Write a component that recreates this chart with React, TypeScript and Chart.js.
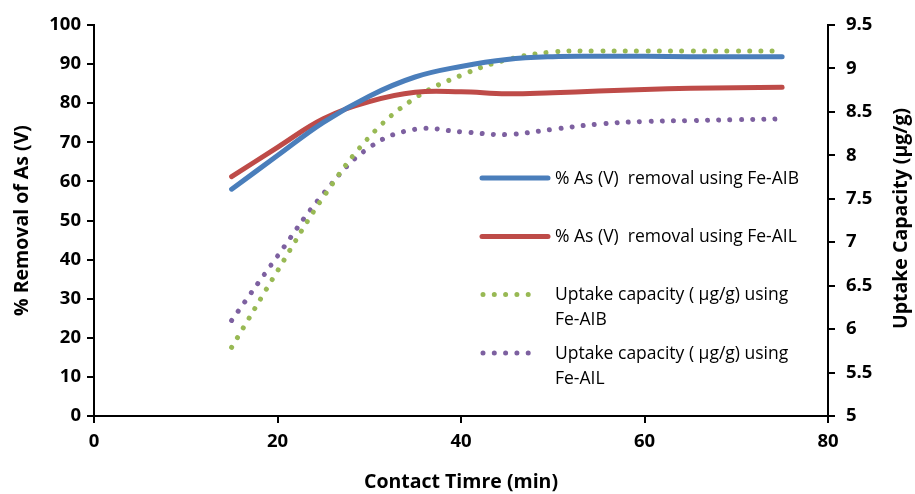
import { useEffect, useRef } from "react";
import { Chart, registerables } from "chart.js";

Chart.register(...registerables);

// Contact time (min)
const contactTime = [15, 20, 25, 30, 35, 40, 45, 50, 55, 60, 65, 70, 75];

// % removal of As(V)
const removalAIB = [58, 66.6, 75.1, 81.8, 86.7, 89.4, 91.2, 91.9, 92, 92, 91.9, 91.9, 91.9];
const removalAIL = [61.2, 68.7, 76.0, 80.4, 82.8, 82.9, 82.4, 82.7, 83.1, 83.5, 83.8, 83.95, 84.05];

// Uptake capacity (µg/g)
const uptakeAIB = [5.79, 6.67, 7.52, 8.21, 8.66, 8.92, 9.1, 9.19, 9.2, 9.2, 9.2, 9.2, 9.2];
const uptakeAIL = [6.1, 6.84, 7.56, 8.09, 8.3, 8.27, 8.24, 8.3, 8.36, 8.39, 8.4, 8.41, 8.42];

// Axis ticks
const timeTicks = [0, 20, 40, 60, 80];
const removalTicks = [0, 10, 20, 30, 40, 50, 60, 70, 80, 90, 100];
const uptakeTicks = [5, 5.5, 6, 6.5, 7, 7.5, 8, 8.5, 9, 9.5];

// Series names and their legend lines
const seriesLabels = [
  "% As (V)  removal using Fe-AIB",
  "% As (V)  removal using Fe-AIL",
  "Uptake capacity ( µg/g) using Fe-AIB",
  "Uptake capacity ( µg/g) using Fe-AIL",
];
const legendLines = [
  ["% As (V)  removal using Fe-AIB"],
  ["% As (V)  removal using Fe-AIL"],
  ["Uptake capacity ( µg/g) using", "Fe-AIB"],
  ["Uptake capacity ( µg/g) using", "Fe-AIL"],
];

const xTitle = "Contact Timre (min)";
const yLeftTitle = "% Removal of As (V)";
const yRightTitle = "Uptake Capacity (µg/g)";

const FONT = '"Open Sans", "Liberation Sans", sans-serif';
const DOT_DASH = [0.001, 11.3];

const toPoints = (ys: number[]) => contactTime.map((x, i) => ({ x, y: ys[i] }));

// Legend drawn inside the plot, plus the right-hand axis title read bottom-to-top
const overlayPlugin = {
  id: "overlay",
  afterDraw(chart: any) {
    const { ctx } = chart;
    const rowY = [178, 236.5, 294.5, 353];
    const lineGap = 25;
    const x0 = 482;
    const x1 = 548;
    const textX = 555;
    ctx.save();
    ctx.font = `17.5px ${FONT}`;
    ctx.textBaseline = "middle";
    ctx.textAlign = "left";
    chart.data.datasets.forEach((ds: any, i: number) => {
      const y = rowY[i];
      ctx.strokeStyle = ds.borderColor;
      ctx.lineWidth = ds.borderWidth;
      ctx.lineCap = "round";
      const dashed = ds.borderDash && ds.borderDash.length;
      ctx.setLineDash(dashed ? ds.borderDash : []);
      ctx.beginPath();
      ctx.moveTo(dashed ? x0 + 1 : x0, y);
      ctx.lineTo(dashed ? x0 + 1 + ds.borderDash[1] * 5 : x1, y);
      ctx.stroke();
      ctx.setLineDash([]);
      ctx.fillStyle = "#000";
      legendLines[i].forEach((t, k) => ctx.fillText(t, textX, y + 1 + k * lineGap));
    });

    const area = chart.chartArea;
    ctx.font = `bold 19.5px ${FONT}`;
    ctx.textAlign = "center";
    ctx.translate(901, (area.top + area.bottom) / 2 - 2);
    ctx.rotate(-Math.PI / 2);
    ctx.fillText(yRightTitle, 0, 0);
    ctx.restore();
  },
};

export default function App() {
  const canvasRef = useRef<HTMLCanvasElement | null>(null);

  useEffect(() => {
    const canvas = canvasRef.current;
    if (!canvas) return;
    const tickFont = { family: FONT, size: 18.5, weight: "bold" as const };
    const titleFont = { family: FONT, size: 19.5, weight: "bold" as const };
    const axisGrid = {
      drawOnChartArea: false,
      drawTicks: true,
      tickLength: 7,
      color: "#000",
      lineWidth: 2,
    };
    const axisBorder = { display: true, color: "#000", width: 2 };

    const chart = new Chart(canvas, {
      type: "line",
      data: {
        datasets: [
          {
            label: seriesLabels[0],
            data: toPoints(removalAIB),
            yAxisID: "y",
            borderColor: "#4A7EBB",
            borderWidth: 5,
            borderCapStyle: "round",
          },
          {
            label: seriesLabels[1],
            data: toPoints(removalAIL),
            yAxisID: "y",
            borderColor: "#BE4B48",
            borderWidth: 5,
            borderCapStyle: "round",
          },
          {
            label: seriesLabels[2],
            data: toPoints(uptakeAIB),
            yAxisID: "y2",
            borderColor: "#98B954",
            borderWidth: 5,
            borderCapStyle: "round",
            borderDash: DOT_DASH,
          },
          {
            label: seriesLabels[3],
            data: toPoints(uptakeAIL),
            yAxisID: "y2",
            borderColor: "#7D60A0",
            borderWidth: 5,
            borderCapStyle: "round",
            borderDash: DOT_DASH,
          },
        ],
      },
      options: {
        responsive: false,
        animation: false,
        devicePixelRatio: 1,
        layout: { padding: { top: 25, left: 0, right: 0, bottom: 0 } },
        elements: {
          point: { radius: 0, hoverRadius: 0 },
          line: { tension: 0.4, fill: false },
        },
        plugins: {
          legend: { display: false },
          tooltip: { enabled: false },
        },
        scales: {
          x: {
            type: "linear",
            min: 0,
            max: 80,
            afterBuildTicks: (s: any) => {
              s.ticks = timeTicks.map((v) => ({ value: v }));
            },
            afterFit: (s: any) => {
              s.height = 78;
            },
            grid: axisGrid,
            border: axisBorder,
            ticks: {
              font: tickFont,
              color: "#000",
              padding: 8,
              maxRotation: 0,
              callback: (v: any) => String(v),
            },
            title: {
              display: true,
              text: xTitle,
              font: titleFont,
              color: "#000",
              padding: { top: 0, bottom: 0 },
            },
          },
          y: {
            type: "linear",
            position: "left",
            min: 0,
            max: 100,
            afterBuildTicks: (s: any) => {
              s.ticks = removalTicks.map((v) => ({ value: v }));
            },
            afterFit: (s: any) => {
              s.width = 94;
            },
            grid: axisGrid,
            border: axisBorder,
            ticks: {
              font: tickFont,
              color: "#000",
              padding: 6,
              callback: (v: any) => String(v),
            },
            title: {
              display: true,
              text: yLeftTitle,
              font: titleFont,
              color: "#000",
              padding: { top: 11, bottom: 0 },
            },
          },
          y2: {
            type: "linear",
            position: "right",
            min: 5,
            max: 9.5,
            afterBuildTicks: (s: any) => {
              s.ticks = uptakeTicks.map((v) => ({ value: v }));
            },
            afterFit: (s: any) => {
              s.width = 87;
            },
            grid: axisGrid,
            border: axisBorder,
            ticks: {
              font: tickFont,
              color: "#000",
              padding: 11,
              callback: (v: any) => String(v),
            },
          },
        },
      },
      plugins: [overlayPlugin],
    });

    return () => chart.destroy();
  }, []);

  return (
    <div style={{ position: "absolute", left: 0, top: 0, width: 915, height: 494, background: "#fff" }}>
      <canvas ref={canvasRef} width={915} height={494} style={{ display: "block" }} />
    </div>
  );
}
